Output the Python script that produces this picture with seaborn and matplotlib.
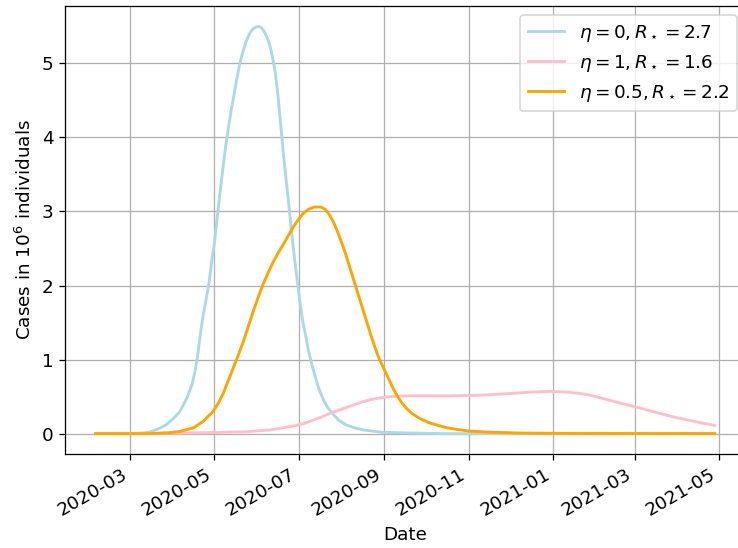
import matplotlib
matplotlib.use("Agg")
import matplotlib.pyplot as plt
import matplotlib.dates as mdates
import pandas as pd
import seaborn as sns

plt.rcParams["font.size"] = 11.5

# Epidemic curves (cases in millions) for three scenarios
labels = [r"$\eta = 0, R_\star = 2.7$",
          r"$\eta = 1, R_\star = 1.6$",
          r"$\eta = 0.5, R_\star = 2.2$"]
colors = ["lightblue", "pink", "orange"]

dates_eta0 = ["2020-02-05", "2020-03-01", "2020-03-10", "2020-03-15", "2020-03-18",
              "2020-03-22", "2020-03-27", "2020-04-01", "2020-04-06", "2020-04-11",
              "2020-04-15", "2020-04-17", "2020-04-19", "2020-04-21", "2020-04-23",
              "2020-04-25", "2020-04-27", "2020-04-29", "2020-05-01", "2020-05-03",
              "2020-05-05", "2020-05-07", "2020-05-09", "2020-05-11", "2020-05-13",
              "2020-05-15", "2020-05-17", "2020-05-19", "2020-05-21", "2020-05-23",
              "2020-05-25", "2020-05-27", "2020-05-29", "2020-05-31", "2020-06-02",
              "2020-06-04", "2020-06-06", "2020-06-08", "2020-06-10", "2020-06-12",
              "2020-06-14", "2020-06-16", "2020-06-18", "2020-06-20", "2020-06-22",
              "2020-06-24", "2020-06-26", "2020-06-28", "2020-06-30", "2020-07-02",
              "2020-07-04", "2020-07-06", "2020-07-08", "2020-07-10", "2020-07-13",
              "2020-07-16", "2020-07-19", "2020-07-22", "2020-07-26", "2020-07-30",
              "2020-08-04", "2020-08-10", "2020-08-17", "2020-08-29", "2020-09-15",
              "2020-10-15", "2021-04-28"]
cases_eta0 = [0.0, 0.0, 0.01, 0.02, 0.04,
              0.07, 0.12, 0.20, 0.30, 0.48,
              0.68, 0.85, 1.08, 1.38, 1.62,
              1.82, 2.03, 2.33, 2.58, 2.93,
              3.25, 3.57, 3.87, 4.12, 4.36,
              4.56, 4.78, 4.97, 5.12, 5.25,
              5.35, 5.42, 5.47, 5.49, 5.50,
              5.48, 5.43, 5.35, 5.25, 5.08,
              4.88, 4.55, 4.15, 3.75, 3.40,
              3.05, 2.68, 2.35, 2.05, 1.75,
              1.50, 1.32, 1.12, 0.97, 0.76,
              0.58, 0.45, 0.35, 0.26, 0.18,
              0.12, 0.08, 0.05, 0.02, 0.01,
              0.0, 0.0]

dates_eta1 = ["2020-02-05", "2020-03-15", "2020-04-06", "2020-05-01", "2020-05-24",
              "2020-06-10", "2020-06-20", "2020-06-29", "2020-07-05", "2020-07-11",
              "2020-07-17", "2020-07-23", "2020-07-29", "2020-08-04", "2020-08-10",
              "2020-08-16", "2020-08-22", "2020-08-28", "2020-09-05", "2020-09-15",
              "2020-10-01", "2020-10-20", "2020-11-10", "2020-11-30", "2020-12-15",
              "2020-12-30", "2021-01-12", "2021-01-25", "2021-02-05", "2021-02-17",
              "2021-03-02", "2021-03-14", "2021-03-26", "2021-04-07", "2021-04-17",
              "2021-04-28"]
cases_eta1 = [0.0, 0.002, 0.008, 0.015, 0.025,
              0.05, 0.08, 0.11, 0.14, 0.18,
              0.22, 0.27, 0.31, 0.35, 0.39,
              0.43, 0.46, 0.48, 0.50, 0.51,
              0.51, 0.51, 0.52, 0.54, 0.56,
              0.57, 0.56, 0.53, 0.48, 0.42,
              0.36, 0.30, 0.24, 0.19, 0.15,
              0.11]

dates_eta05 = ["2020-02-05", "2020-03-15", "2020-03-29", "2020-04-06", "2020-04-16",
               "2020-04-23", "2020-04-30", "2020-05-04", "2020-05-07", "2020-05-10",
               "2020-05-14", "2020-05-18", "2020-05-22", "2020-05-26", "2020-05-29",
               "2020-06-02", "2020-06-05", "2020-06-09", "2020-06-12", "2020-06-16",
               "2020-06-19", "2020-06-23", "2020-06-27", "2020-07-01", "2020-07-04",
               "2020-07-08", "2020-07-12", "2020-07-17", "2020-07-20", "2020-07-23",
               "2020-07-26", "2020-07-29", "2020-08-01", "2020-08-04", "2020-08-07",
               "2020-08-10", "2020-08-13", "2020-08-16", "2020-08-19", "2020-08-22",
               "2020-08-25", "2020-08-28", "2020-08-31", "2020-09-03", "2020-09-06",
               "2020-09-09", "2020-09-13", "2020-09-17", "2020-09-21", "2020-09-27",
               "2020-10-03", "2020-10-10", "2020-10-16", "2020-10-24", "2020-11-01",
               "2020-11-16", "2020-12-08", "2021-01-15", "2021-04-28"]
cases_eta05 = [0.0, 0.0, 0.012, 0.03, 0.08,
               0.17, 0.30, 0.42, 0.53, 0.67,
               0.86, 1.05, 1.25, 1.48, 1.65,
               1.86, 2.01, 2.18, 2.30, 2.44,
               2.53, 2.66, 2.79, 2.90, 2.97,
               3.03, 3.06, 3.06, 3.03, 2.96,
               2.86, 2.73, 2.58, 2.42, 2.24,
               2.06, 1.88, 1.70, 1.52, 1.34,
               1.17, 1.02, 0.90, 0.78, 0.66,
               0.55, 0.43, 0.34, 0.27, 0.20,
               0.15, 0.11, 0.08, 0.055, 0.035,
               0.02, 0.008, 0.002, 0.0]

frames = []
for lab, d, v in zip(labels,
                     [dates_eta0, dates_eta1, dates_eta05],
                     [cases_eta0, cases_eta1, cases_eta05]):
    frames.append(pd.DataFrame({"Date": pd.to_datetime(d), "Cases": v, "Scenario": lab}))
df = pd.concat(frames, ignore_index=True)

dpi = 115
fig = plt.figure(figsize=(738 / dpi, 548 / dpi), dpi=dpi)
ax = fig.add_axes([64.7 / 738, 1 - 454 / 548, 681 / 738, 448 / 548])

sns.lineplot(data=df, x="Date", y="Cases", hue="Scenario", hue_order=labels,
             palette=dict(zip(labels, colors)), estimator=None, linewidth=1.8, ax=ax)

ax.grid(True, color="#b0b0b0", linewidth=0.8)
ax.set_axisbelow(True)
ax.xaxis.set_major_locator(mdates.MonthLocator(bymonth=[1, 3, 5, 7, 9, 11]))
ax.xaxis.set_major_formatter(mdates.DateFormatter("%Y-%m"))
for lbl in ax.get_xticklabels():
    lbl.set_rotation(30)
    lbl.set_ha("right")
ax.set_xlabel("Date")
ax.set_ylabel(r"Cases in $10^6$ individuals")
ax.legend(loc="upper right", title=None)

fig.savefig("out.png", dpi=dpi)
